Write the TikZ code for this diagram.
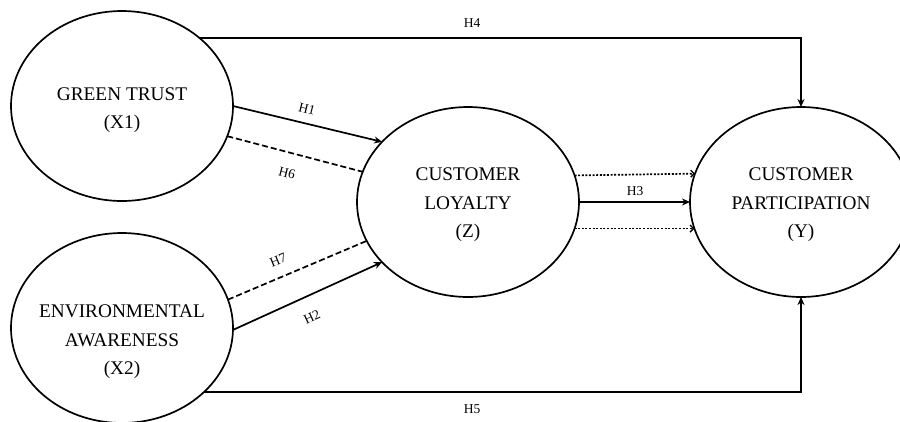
\documentclass[tikz,border=0pt]{standalone}
\usepackage{fontspec}
\setmainfont{Liberation Serif}
\usetikzlibrary{shapes.geometric,arrows.meta}
\begin{document}
\begin{tikzpicture}[x=1pt,y=-1pt,
  construct/.style={ellipse,draw,line width=1.7pt,minimum width=222pt,minimum height=190pt,inner sep=0pt,outer sep=0pt},
  ctext/.style={align=center,font=\fontsize{19.3}{28.5}\selectfont,inner sep=0pt},
  link/.style={line width=1.7pt},
  solidarrow/.style={link,-{Stealth[length=8pt,width=7pt]}},
  dashedlink/.style={link,dash pattern=on 6pt off 3pt},
  dottedarrow/.style={link,dash pattern=on 2pt off 1.6pt,-{Straight Barb[length=3.5pt,width=7pt,line width=1.3pt]}},
  hlabel/.style={font=\fontsize{13.5}{15}\selectfont,inner sep=0pt}]
\clip (0,0) rectangle (900,421);
\useasboundingbox (0,0) rectangle (900,421);
\fill[white] (0,0) rectangle (900,421);
\node[construct] (X1) at (122,106) {};
\node[construct] (X2) at (122,328) {};
\node[construct] (Z) at (468,202) {};
\node[construct] (Y) at (801,202) {};
\node[ctext] (tX1) at (122,110) {GREEN TRUST\\(X1)};
\node[ctext] (tX2) at (122,342) {ENVIRONMENTAL\\AWARENESS\\(X2)};
\node[ctext] (tZ) at (468,205) {CUSTOMER\\LOYALTY\\(Z)};
\node[ctext] (tY) at (801,205) {CUSTOMER\\PARTICIPATION\\(Y)};
% H1
\draw[solidarrow] (X1.0.5) -- (Z.145.2);
% H6
\draw[dashedlink] (X1.-16.8) -- (Z.164.6);
% H7
\draw[dashedlink] (X2.15.3) -- (Z.201.8);
% H2
\draw[solidarrow] (X2.-1) -- (Z.215.2);
% H3 and dotted
\draw[solidarrow] (Z.east) -- (Y.west);
\draw[dottedarrow] (Z.14.5) -- (Y.165.5);
\draw[dottedarrow] (Z.-14.5) -- (Y.194.5);
% H4
\draw[solidarrow] (X1.41.3) -| (Y.north);
% H5
\draw[solidarrow] (X2.-38.5) -| (Y.south);
% labels
\node[hlabel] (lH4) at (472,23) {H4};
\node[hlabel] (lH5) at (472,409) {H5};
\node[hlabel] (lH3) at (635,191) {H3};
\node[hlabel,rotate=-14] (lH1) at (307,109) {H1};
\node[hlabel,rotate=-14.5] (lH6) at (287,173) {H6};
\node[hlabel,rotate=22] (lH7) at (278,260) {H7};
\node[hlabel,rotate=25] (lH2) at (312,317) {H2};
\end{tikzpicture}
\end{document}
